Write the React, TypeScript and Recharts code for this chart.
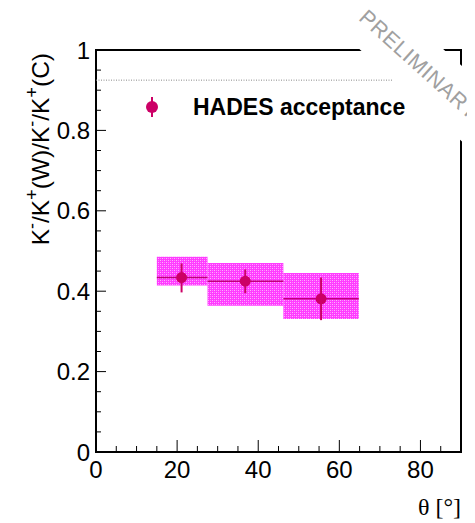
import React from "react";
import {
  ComposedChart,
  Scatter,
  XAxis,
  YAxis,
  ErrorBar,
  ReferenceArea,
  ReferenceLine,
} from "recharts";

// ---- data ----
const thetaCenter = [21.1, 36.8, 55.5];
const ratio = [0.434, 0.425, 0.381];
const binLow = [15.0, 27.5, 46.2];
const binHigh = [27.5, 46.2, 64.8];
const statLow = [0.397, 0.395, 0.328];
const statHigh = [0.469, 0.454, 0.434];
const sysLow = [0.414, 0.364, 0.331];
const sysHigh = [0.486, 0.47, 0.445];

const xTicks = [0, 5, 10, 15, 20, 25, 30, 35, 40, 45, 50, 55, 60, 65, 70, 75, 80, 85];
const xMajor = [0, 20, 40, 60, 80];
const yTicks = [0, 0.05, 0.1, 0.15, 0.2, 0.25, 0.3, 0.35, 0.4, 0.45, 0.5, 0.55, 0.6, 0.65, 0.7, 0.75, 0.8, 0.85, 0.9, 0.95, 1];
const yMajor = [0, 0.2, 0.4, 0.6, 0.8, 1];
const yMajorLabels = ["0", "0.2", "0.4", "0.6", "0.8", "1"];

const acceptanceLevel = 0.925;
const acceptanceEnd = 73;

const data = thetaCenter.map((t, i) => ({
  theta: t,
  ratio: ratio[i],
  xErr: [t - binLow[i], binHigh[i] - t],
  yErr: [ratio[i] - statLow[i], statHigh[i] - ratio[i]],
}));

const FONT = "'Liberation Sans', Arial, Helvetica, sans-serif";
const MARK = "#cc0066";

const YTick = (props: any) => {
  const { x, y, payload } = props;
  const v = payload.value;
  const idx = yMajor.findIndex((m) => Math.abs(m - v) < 1e-6);
  const major = idx >= 0;
  return (
    <g>
      <line x1={x} x2={x + (major ? 10 : 5)} y1={y} y2={y} stroke="#000" strokeWidth={1} />
      {major && (
        <text x={x - 6} y={y} dy="0.36em" textAnchor="end" fontSize={24} fontFamily={FONT} fill="#000">
          {yMajorLabels[idx]}
        </text>
      )}
    </g>
  );
};

const XTick = (props: any) => {
  const { x, y, payload } = props;
  const v = payload.value;
  const major = xMajor.includes(v);
  return (
    <g>
      <line x1={x} x2={x} y1={y} y2={y - (major ? 12 : 6)} stroke="#000" strokeWidth={1} />
      {major && (
        <text x={x} y={y + 26} textAnchor="middle" fontSize={24} fontFamily={FONT} fill="#000">
          {String(v)}
        </text>
      )}
    </g>
  );
};

const SUP = 18;
const RAISE = 11;

const YTitle = () => (
  <text
    transform="translate(41,45) rotate(-90)"
    textAnchor="end"
    fontSize={24.5}
    fontFamily={FONT}
    fill="#000"
  >
    K<tspan fontSize={SUP} dy={-RAISE}>-</tspan>
    <tspan dy={RAISE}>/K</tspan>
    <tspan fontSize={SUP} dy={-RAISE}>+</tspan>
    <tspan dy={RAISE}>(W)/K</tspan>
    <tspan fontSize={SUP} dy={-RAISE}>-</tspan>
    <tspan dy={RAISE}>/K</tspan>
    <tspan fontSize={SUP} dy={-RAISE}>+</tspan>
    <tspan dy={RAISE}>(C)</tspan>
  </text>
);

const XTitle = () => (
  <text x={453} y={507} textAnchor="end" fontSize={24} fontFamily="'Liberation Serif', 'Times New Roman', serif" fill="#000">
    θ [°]
  </text>
);

const Dot = (props: any) => {
  const { cx, cy } = props;
  return <circle cx={cx} cy={cy} r={5.5} fill={MARK} />;
};

export default function App() {
  return (
    <div style={{ position: "relative", width: 467, height: 515, fontFamily: FONT }}>
      <svg width={0} height={0} style={{ position: "absolute" }}>
        <defs>
          <pattern id="sysPat" width="4" height="4" patternUnits="userSpaceOnUse">
            <rect width="4" height="4" fill="#ff3cff" />
            <rect x="0" y="0" width="1" height="1" fill="#ffb0ff" />
            <rect x="2" y="2" width="1" height="1" fill="#ffb0ff" />
            <rect x="0" y="2" width="1" height="1" fill="#ff80ff" />
            <rect x="2" y="0" width="1" height="1" fill="#ff80ff" />
          </pattern>
        </defs>
      </svg>
      <ComposedChart
        width={467}
        height={515}
        data={data}
        margin={{ top: 42, right: 14, bottom: 41, left: 48 }}
      >
        <XAxis
          type="number"
          dataKey="theta"
          domain={[0, 90]}
          ticks={xTicks}
          interval={0}
          axisLine={false}
          tickLine={false}
          tickSize={0}
          tickMargin={0}
          height={30}
          tick={<XTick />}
          allowDataOverflow
          label={<XTitle />}
        />
        <YAxis
          type="number"
          dataKey="ratio"
          domain={[0, 1]}
          ticks={yTicks}
          interval={0}
          axisLine={false}
          tickLine={false}
          tickSize={0}
          tickMargin={0}
          width={40}
          tick={<YTick />}
          allowDataOverflow
          label={<YTitle />}
        />
        {thetaCenter.map((_, i) => (
          <ReferenceArea
            key={i}
            x1={binLow[i]}
            x2={binHigh[i]}
            y1={sysLow[i]}
            y2={sysHigh[i]}
            fill="url(#sysPat)"
            fillOpacity={1}
            stroke="none"
          />
        ))}
        <ReferenceLine
          segment={[
            { x: 0, y: acceptanceLevel },
            { x: acceptanceEnd, y: acceptanceLevel },
          ]}
          stroke="#888"
          strokeDasharray="1 1.5"
          strokeWidth={1}
        />
        <Scatter dataKey="ratio" fill={MARK} shape={<Dot />} isAnimationActive={false}>
          <ErrorBar dataKey="yErr" direction="y" width={0} stroke={MARK} strokeWidth={2} />
          <ErrorBar dataKey="xErr" direction="x" width={0} stroke="#c0007a" strokeWidth={1.5} />
        </Scatter>
        <ReferenceArea x1={0} x2={90} y1={0} y2={1} fill="none" stroke="#000" strokeWidth={2} />
      </ComposedChart>

      {/* legend */}
      <div style={{ position: "absolute", left: 134, top: 86, display: "flex", alignItems: "center" }}>
        <svg width={20} height={26}>
          <line x1={10} x2={10} y1={3} y2={23} stroke={MARK} strokeWidth={2} />
          <circle cx={10} cy={13} r={6} fill={MARK} />
        </svg>
        <span style={{ marginLeft: 31, fontWeight: "bold", fontSize: 23, fontFamily: FONT, color: "#000", lineHeight: "26px" }}>
          HADES acceptance
        </span>
      </div>

      {/* preliminary stamp */}
      <div
        style={{
          position: "absolute",
          left: 411,
          top: 57,
          transform: "translate(-50%, -50%) rotate(42deg)",
          background: "#fff",
          padding: "17px 22px",
          fontSize: 21.5,
          lineHeight: "22px",
          color: "#a0a0a0",
          fontFamily: FONT,
          whiteSpace: "nowrap",
          letterSpacing: 0.6,
        }}
      >
        PRELIMINARY
      </div>
    </div>
  );
}
